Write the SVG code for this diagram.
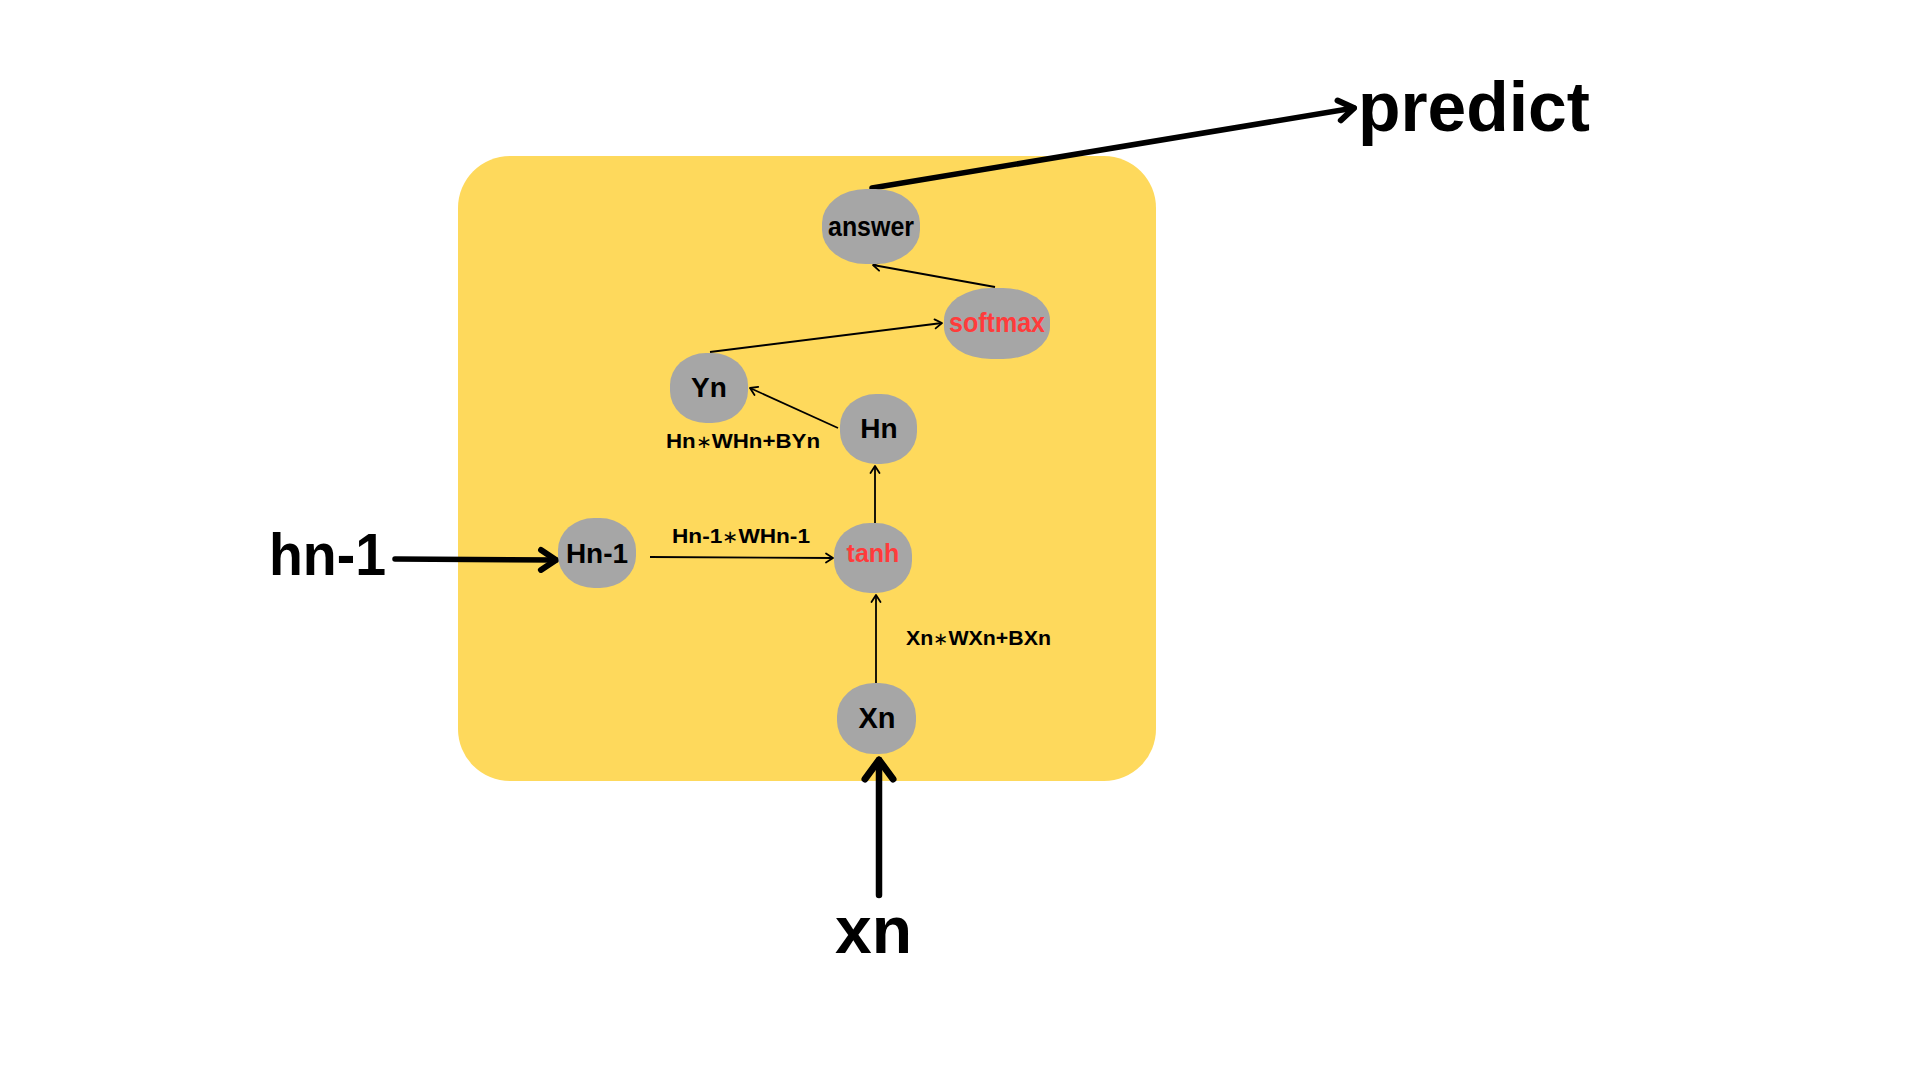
<svg xmlns="http://www.w3.org/2000/svg" width="1920" height="1080" viewBox="0 0 1920 1080">
<defs>
<style>
.node{fill:#A6A6A6}
.t{font-family:"Liberation Sans",Arial,sans-serif;font-weight:bold;fill:#000;text-anchor:middle}
.red{fill:#FF3B3B}
.lbl{font-family:"Liberation Sans",Arial,sans-serif;font-weight:bold;font-size:21px;fill:#000}
.ast{font-weight:normal;font-size:18px}
.big{font-family:"Liberation Sans",Arial,sans-serif;font-weight:bold;fill:#000}
.thin{stroke:#000;stroke-width:1.8;fill:none;marker-end:url(#ah)}
.thick{stroke:#000;stroke-width:5.5;fill:none;stroke-linecap:round;marker-end:url(#ahb)}
</style>
<marker id="ah" markerUnits="userSpaceOnUse" viewBox="-10 -6 12 12" refX="0" refY="0" markerWidth="12" markerHeight="12" orient="auto" overflow="visible">
<path d="M-7,-4.5 L0,0 L-7,4.5" fill="none" stroke="#000" stroke-width="1.8" stroke-linecap="round" stroke-linejoin="round"/>
</marker>
<marker id="ahb" markerUnits="userSpaceOnUse" viewBox="-20 -14 24 28" refX="0" refY="0" markerWidth="24" markerHeight="28" orient="auto" overflow="visible">
<path d="M-15,-10 L0,0 L-15,10" fill="none" stroke="#000" stroke-width="6" stroke-linecap="round" stroke-linejoin="round"/>
</marker>
<marker id="ahx" markerUnits="userSpaceOnUse" viewBox="-24 -18 28 36" refX="0" refY="0" markerWidth="28" markerHeight="36" orient="auto" overflow="visible">
<path d="M-19,-14 L0,0 L-19,14" fill="none" stroke="#000" stroke-width="7" stroke-linecap="round" stroke-linejoin="round"/>
</marker>
</defs>
<rect width="1920" height="1080" fill="#FFFFFF"/>
<g id="cell">
<rect x="458" y="156" width="698" height="625" rx="52" ry="52" fill="#FED95C"/>
</g>
<g id="connectors">
<path class="thin" d="M995,287 L873,265"/>
<path class="thin" d="M710,352 L942,323"/>
<path class="thin" d="M838,428 L750,388"/>
<path class="thin" d="M875,523 L875,466"/>
<path class="thin" d="M650,557 L833,558"/>
<path class="thin" d="M876,683 L876,595"/>
<path class="thick" d="M872,188 L1354,108"/>
<path class="thick" d="M395,559 L556,560"/>
<path class="thick" d="M879,895 L879,760" style="stroke-width:6.5;marker-end:url(#ahx)"/>
</g>
<g id="node-answer">
<rect class="node" x="822" y="189" width="98" height="75" rx="44" ry="34"/>
<text class="t" x="871" y="236" font-size="27" textLength="86" lengthAdjust="spacingAndGlyphs">answer</text>
</g>
<g id="node-softmax">
<rect class="node" x="944" y="288" width="106" height="71" rx="47" ry="32"/>
<text class="t red" x="997" y="332" font-size="27" textLength="96" lengthAdjust="spacingAndGlyphs">softmax</text>
</g>
<g id="node-yn">
<rect class="node" x="670" y="353" width="78" height="70" rx="36" ry="32"/>
<text class="t" x="709" y="397" font-size="28">Yn</text>
</g>
<g id="node-hn">
<rect class="node" x="840" y="394" width="77" height="70" rx="36" ry="32"/>
<text class="t" x="879" y="438" font-size="28">Hn</text>
</g>
<g id="node-hn1">
<rect class="node" x="558" y="518" width="78" height="70" rx="36" ry="32"/>
<text class="t" x="597" y="563" font-size="28">Hn-1</text>
</g>
<g id="node-tanh">
<rect class="node" x="834" y="523" width="78" height="70" rx="36" ry="32"/>
<text class="t red" x="873" y="562" font-size="25">tanh</text>
</g>
<g id="node-xn">
<rect class="node" x="837" y="683" width="79" height="71" rx="37" ry="33"/>
<text class="t" x="877" y="728" font-size="29">Xn</text>
</g>
<g id="labels">
<text class="lbl" x="666" y="448" textLength="154" lengthAdjust="spacingAndGlyphs">Hn<tspan class="ast">∗</tspan>WHn+BYn</text>
<text class="lbl" x="672" y="543" textLength="138" lengthAdjust="spacingAndGlyphs">Hn-1<tspan class="ast">∗</tspan>WHn-1</text>
<text class="lbl" x="906" y="645" textLength="145" lengthAdjust="spacingAndGlyphs">Xn<tspan class="ast">∗</tspan>WXn+BXn</text>
</g>
<g id="io">
<text class="big" x="1358" y="131" font-size="70" textLength="232" lengthAdjust="spacingAndGlyphs">predict</text>
<text class="big" x="269" y="575" font-size="60" textLength="117" lengthAdjust="spacingAndGlyphs">hn-1</text>
<text class="big" x="835" y="953" font-size="66" textLength="77" lengthAdjust="spacingAndGlyphs">xn</text>
</g>
</svg>
